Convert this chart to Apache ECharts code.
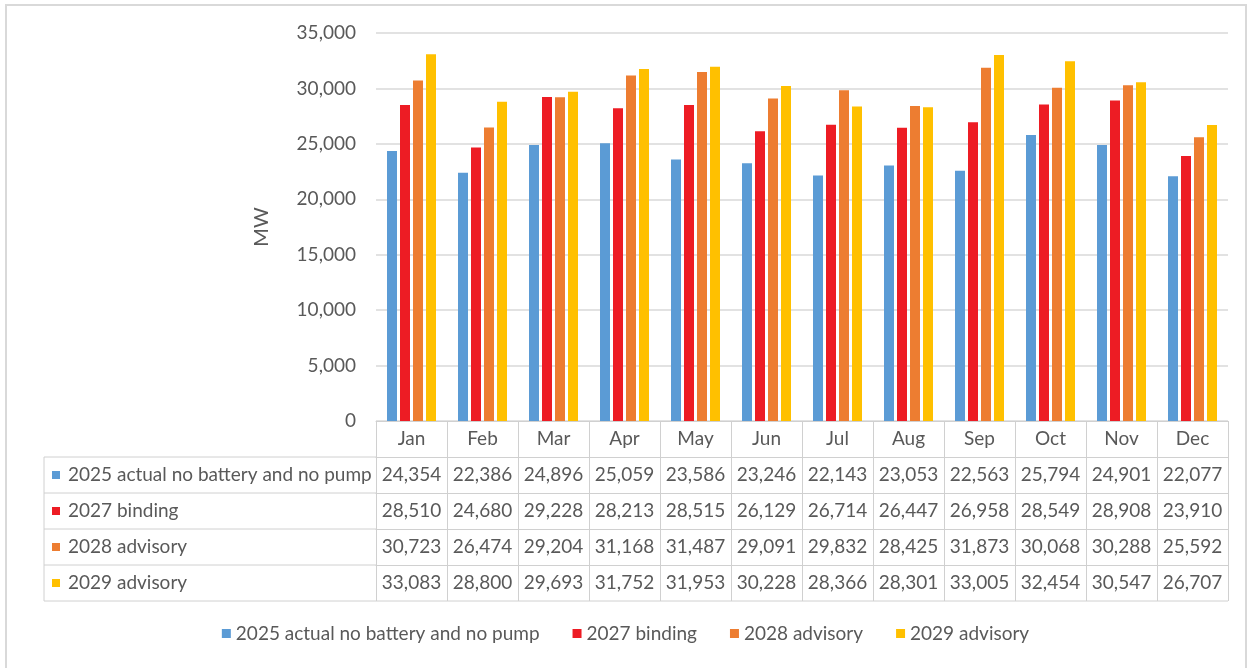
<!DOCTYPE html>
<html>
<head>
<meta charset="utf-8">
<script src="https://cdn.jsdelivr.net/npm/echarts@6/dist/echarts.min.js"></script>
<style>
  html, body { margin: 0; padding: 0; background: #fff; }
  #main { width: 1251px; height: 668px; }
</style>
</head>
<body>
<div id="main"></div>
<script>
// data
var months = ["Jan", "Feb", "Mar", "Apr", "May", "Jun", "Jul", "Aug", "Sep", "Oct", "Nov", "Dec"];
var actual2025 = [24354, 22386, 24896, 25059, 23586, 23246, 22143, 23053, 22563, 25794, 24901, 22077];
var binding2027 = [28510, 24680, 29228, 28213, 28515, 26129, 26714, 26447, 26958, 28549, 28908, 23910];
var advisory2028 = [30723, 26474, 29204, 31168, 31487, 29091, 29832, 28425, 31873, 30068, 30288, 25592];
var advisory2029 = [33083, 28800, 29693, 31752, 31953, 30228, 28366, 28301, 33005, 32454, 30547, 26707];
var seriesNames = ["2025 actual no battery and no pump", "2027 binding", "2028 advisory", "2029 advisory"];
var seriesColors = ["#5B9BD5", "#ED1C24", "#ED7D31", "#FFC000"];
var yTicks = [0, 5000, 10000, 15000, 20000, 25000, 30000, 35000];

var FONT = "Lato";
var TXT = "#595959";
var LINE = "#d0d0d0";
var FS = 19;

// layout of the plot and the data table
var gridLeft = 376, gridRight = 23, gridTop = 33, gridBottom = 247;
var rowH = 36;
var tableLeft = 44;
var axisY = 668 - gridBottom;

var rows = [actual2025, binding2027, advisory2028, advisory2029];

var fmt = function (v) { return Number(v).toLocaleString("en-US"); };

var myChart = echarts.init(document.getElementById("main"));

// header axis (months) + one axis per table row
var xAxes = [{
  type: "category",
  data: months,
  position: "bottom",
  axisLine: { show: true, lineStyle: { color: LINE, width: 1 } },
  axisTick: { show: true, length: rowH, interval: 0, lineStyle: { color: LINE } },
  axisLabel: { interval: 0, margin: 8, fontFamily: FONT, fontSize: FS, color: TXT }
}];
rows.forEach(function (r, i) {
  xAxes.push({
    type: "category",
    data: r.map(String),
    position: "bottom",
    offset: rowH * (i + 1),
    axisLine: { show: true, lineStyle: { color: LINE, width: 1 } },
    axisTick: { show: true, length: rowH, interval: 0, lineStyle: { color: LINE } },
    axisLabel: { interval: 0, margin: 8, fontFamily: FONT, fontSize: FS, color: TXT, formatter: fmt }
  });
});

// left column of the table: series names with colour keys
var tableGraphics = [];
var tTop = axisY + rowH;
for (var i = 0; i <= rows.length; i++) {
  tableGraphics.push({
    type: "line",
    shape: { x1: tableLeft, y1: tTop + i * rowH, x2: i === rows.length ? 1251 - gridRight : gridLeft, y2: tTop + i * rowH },
    style: { stroke: LINE, lineWidth: 1 }
  });
}
tableGraphics.push({
  type: "line",
  shape: { x1: tableLeft, y1: tTop, x2: tableLeft, y2: tTop + rows.length * rowH },
  style: { stroke: LINE, lineWidth: 1 }
});
seriesNames.forEach(function (n, i) {
  var cy = tTop + i * rowH + rowH / 2;
  tableGraphics.push({
    type: "rect",
    shape: { x: 52, y: cy - 4, width: 8, height: 8 },
    style: { fill: seriesColors[i] }
  });
  tableGraphics.push({
    type: "text",
    x: 68, y: cy,
    style: { text: n, font: FS + "px " + FONT, fill: TXT, verticalAlign: "middle" }
  });
});
// outer frame
tableGraphics.push({
  type: "rect",
  shape: { x: 6, y: 5, width: 1240, height: 700 },
  style: { fill: "none", stroke: "#d9d9d9", lineWidth: 2 }
});

var option = {
  backgroundColor: "#fff",
  animation: false,
  color: seriesColors,
  grid: { left: gridLeft, right: gridRight, top: gridTop, bottom: gridBottom },
  legend: {
    bottom: 20,
    left: "center",
    icon: "rect",
    itemWidth: 9,
    itemHeight: 9,
    itemGap: 33,
    textStyle: { fontFamily: FONT, fontSize: FS, color: TXT },
    data: seriesNames
  },
  xAxis: xAxes,
  yAxis: {
    type: "value",
    min: yTicks[0],
    max: yTicks[yTicks.length - 1],
    interval: 5000,
    name: "MW",
    nameLocation: "middle",
    nameGap: 104,
    nameTextStyle: { fontFamily: FONT, fontSize: 20, color: TXT },
    axisLine: { show: false },
    axisTick: { show: false },
    axisLabel: { margin: 20, fontFamily: FONT, fontSize: FS, color: TXT, formatter: fmt },
    splitLine: { lineStyle: { color: "#d9d9d9", width: 1.5 } }
  },
  graphic: tableGraphics,
  series: rows.map(function (r, i) {
    return {
      name: seriesNames[i],
      type: "bar",
      xAxisIndex: 0,
      data: r,
      barWidth: 10,
      barGap: "30%",
      itemStyle: { color: seriesColors[i] }
    };
  })
};
myChart.setOption(option);
</script>
</body>
</html>
